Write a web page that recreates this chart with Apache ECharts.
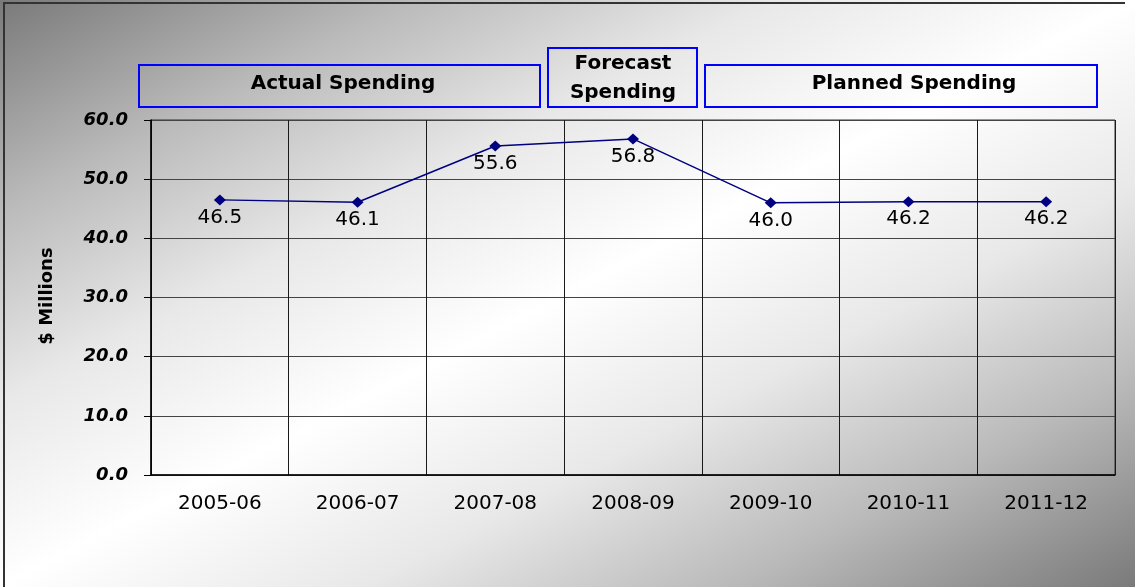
<!DOCTYPE html>
<html>
<head>
<meta charset="utf-8">
<script src="https://cdn.jsdelivr.net/npm/echarts@6/dist/echarts.min.js"></script>
<style>
  html, body { margin: 0; padding: 0; }
  #main { width: 1135px; height: 587px; }
</style>
</head>
<body>
<div id="main"></div>
<script>
var years = ['2005-06', '2006-07', '2007-08', '2008-09', '2009-10', '2010-11', '2011-12'];
var spending = [46.5, 46.1, 55.6, 56.8, 46.0, 46.2, 46.2];
var yTicks = { min: 0, max: 60, step: 10 };
var headers = ['Actual Spending', 'Forecast\nSpending', 'Planned Spending'];

var chart = echarts.init(document.getElementById('main'));

var W = 1135, H = 587;
var boxStroke = '#0000ff';
var hdrFont = 'bold 20px "DejaVu Sans"';

var option = {
  animation: false,
  graphic: [
    // unit square stretched to the page so the gradient bands follow the anti-diagonal
    {
      type: 'rect', z: -100, silent: true,
      x: 0, y: 0, scaleX: W, scaleY: H,
      shape: { x: 0, y: 0, width: 1, height: 1 },
      style: {
        fill: {
          type: 'linear', x: 0, y: 0, x2: 1, y2: 1,
          colorStops: [
            { offset: 0, color: '#7a7a7a' },
            { offset: 0.18, color: '#bababa' },
            { offset: 0.34, color: '#e8e8e8' },
            { offset: 0.5, color: '#ffffff' },
            { offset: 0.66, color: '#e8e8e8' },
            { offset: 0.82, color: '#bababa' },
            { offset: 1, color: '#7a7a7a' }
          ]
        }
      }
    },
    { type: 'line', shape: { x1: 4, y1: 2, x2: 4, y2: H }, style: { stroke: '#333', lineWidth: 2 } },
    { type: 'line', shape: { x1: 4, y1: 3, x2: 1125, y2: 3 }, style: { stroke: '#333', lineWidth: 2 } },

    { type: 'rect', shape: { x: 139, y: 65, width: 401, height: 42 }, style: { fill: 'transparent', stroke: boxStroke, lineWidth: 2 } },
    { type: 'rect', shape: { x: 548, y: 48, width: 149, height: 59 }, style: { fill: 'transparent', stroke: boxStroke, lineWidth: 2 } },
    { type: 'rect', shape: { x: 705, y: 65, width: 392, height: 42 }, style: { fill: 'transparent', stroke: boxStroke, lineWidth: 2 } },

    { type: 'text', style: { text: headers[0], x: 343, y: 84, font: hdrFont, fill: '#000', textAlign: 'center', textVerticalAlign: 'middle' } },
    { type: 'text', style: { text: headers[1], x: 623, y: 78, font: hdrFont, lineHeight: 29, fill: '#000', textAlign: 'center', textVerticalAlign: 'middle' } },
    { type: 'text', style: { text: headers[2], x: 914, y: 84, font: hdrFont, fill: '#000', textAlign: 'center', textVerticalAlign: 'middle' } },

    { type: 'text', rotation: Math.PI / 2, x: 47, y: 296,
      style: { text: '$ Millions', x: 0, y: 0, font: 'bold 18px "DejaVu Sans"', fill: '#000', textAlign: 'center', textVerticalAlign: 'middle' } }
  ],
  grid: {
    left: 151, right: 20, top: 120, bottom: 112,
    show: true, borderColor: '#333', borderWidth: 1, backgroundColor: 'transparent'
  },
  xAxis: {
    type: 'category',
    data: years,
    boundaryGap: true,
    axisLine: { lineStyle: { color: '#000', width: 1.5 } },
    axisTick: { show: false },
    splitLine: { show: true, interval: 0, lineStyle: { color: '#1a1a1a', width: 1 } },
    axisLabel: { interval: 0, margin: 19, fontFamily: 'DejaVu Sans', fontSize: 20, color: '#000' }
  },
  yAxis: {
    type: 'value',
    min: yTicks.min, max: yTicks.max, interval: yTicks.step,
    axisLine: { show: true, lineStyle: { color: '#000', width: 1.5 } },
    axisTick: { show: true, length: 7, lineStyle: { color: '#000' } },
    splitLine: { lineStyle: { color: '#444', width: 1 } },
    axisLabel: {
      margin: 23,
      formatter: function (v) { return v.toFixed(1); },
      fontFamily: 'DejaVu Sans', fontSize: 18, fontWeight: 'bold', fontStyle: 'italic', color: '#000'
    }
  },
  series: [
    {
      type: 'line',
      data: spending,
      symbol: 'diamond',
      symbolSize: [12, 11],
      color: '#000080',
      lineStyle: { color: '#000080', width: 1.5 },
      itemStyle: { color: '#000080' },
      label: {
        show: true, position: 'bottom', distance: 2,
        formatter: function (p) { return p.value.toFixed(1); },
        fontFamily: 'DejaVu Sans', fontSize: 20, color: '#000'
      }
    }
  ]
};

chart.setOption(option);
window.addEventListener('resize', chart.resize);
</script>
</body>
</html>
